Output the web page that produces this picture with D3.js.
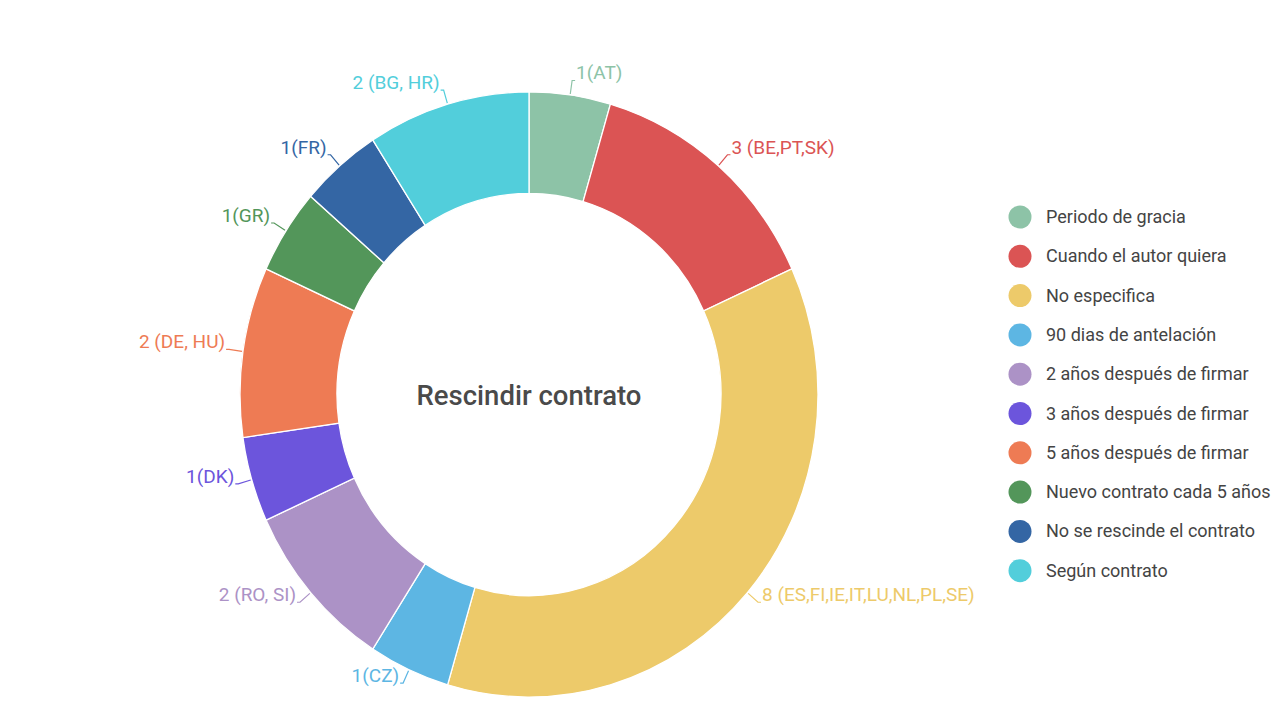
<!DOCTYPE html>
<html>
<head>
<meta charset="utf-8">
<script src="https://cdn.jsdelivr.net/npm/d3@7"></script>
<style>
  body { margin: 0; background: #fff; font-family: Roboto, "Noto Sans", sans-serif; }
</style>
</head>
<body>
<div id="chart"></div>
<script>
// categories, values, slice labels
var categories = ["Periodo de gracia", "Cuando el autor quiera", "No especifica", "90 dias de antelación",
    "2 años después de firmar", "3 años después de firmar", "5 años después de firmar",
    "Nuevo contrato cada 5 años", "No se rescinde el contrato", "Según contrato"];
var values = [1, 3, 8, 1, 2, 1, 2, 1, 1, 2];
var sliceLabels = ["1(AT)", "3 (BE,PT,SK)", "8 (ES,FI,IE,IT,LU,NL,PL,SE)", "1(CZ)", "2 (RO, SI)",
    "1(DK)", "2 (DE, HU)", "1(GR)", "1(FR)", "2 (BG, HR)"];
var colors = ["#8dc3a7", "#db5454", "#edca6a", "#5db6e3", "#ac92c6", "#6c55dc", "#ee7b54",
    "#53965a", "#3466a4", "#52cedb"];
var title = "Rescindir contrato";

var W = 1282, H = 708;
var cx = 529, cy = 394.5;
var rOuter = 289, rInner = 192, yStretch = 1.047;

var svg = d3.select("#chart").append("svg")
    .attr("width", W)
    .attr("height", H);

var data = categories.map(function (c, i) {
    return {name: c, value: values[i], label: sliceLabels[i], color: colors[i]};
});

var pie = d3.pie()
    .sort(null)
    .value(function (d) { return d.value; });

var arc = d3.arc()
    .innerRadius(rInner)
    .outerRadius(rOuter);

var arcs = pie(data);

// the ring (slightly taller than wide, like the reference)
svg.append("g")
    .attr("transform", "translate(" + cx + "," + cy + ") scale(1," + yStretch + ")")
    .selectAll("path")
    .data(arcs)
    .enter()
    .append("path")
    .attr("d", arc)
    .attr("fill", function (d) { return d.data.color; })
    .attr("stroke", "#fff")
    .attr("stroke-width", 1.3);

// point on the (stretched) ring at a given angle and radius
function pt(a, r) {
    return [cx + r * Math.sin(a), cy - r * yStretch * Math.cos(a)];
}

var labels = svg.append("g");

arcs.forEach(function (d) {
    var a = (d.startAngle + d.endAngle) / 2;
    var right = Math.sin(a) >= 0;
    var p1 = pt(a, rOuter + 1);
    var p2 = pt(a, rOuter + 14);
    var p3 = [p2[0] + (right ? 3 : -3), p2[1]];

    labels.append("polyline")
        .attr("points", [p1, p2, p3].map(function (p) { return p.join(","); }).join(" "))
        .attr("fill", "none")
        .attr("stroke", d.data.color)
        .attr("stroke-width", 1.2);

    labels.append("text")
        .attr("x", p3[0] + (right ? 1 : -1))
        .attr("y", p3[1] - 1)
        .attr("text-anchor", right ? "start" : "end")
        .attr("font-size", 19)
        .attr("fill", d.data.color)
        .text(d.data.label);
});

// centre title
svg.append("text")
    .attr("x", cx)
    .attr("y", cy + 10)
    .attr("text-anchor", "middle")
    .attr("font-size", 27.5)
    .attr("font-weight", 500)
    .attr("fill", "#4a4a4a")
    .text(title);

// legend
var legend = svg.append("g")
    .attr("transform", "translate(1020,217)");

var rows = legend.selectAll("g")
    .data(data)
    .enter()
    .append("g")
    .attr("transform", function (d, i) { return "translate(0," + (i * 39.3) + ")"; });

rows.append("circle")
    .attr("r", 11.5)
    .attr("fill", function (d) { return d.color; });

rows.append("text")
    .attr("x", 26)
    .attr("y", 6)
    .attr("font-size", 18)
    .attr("fill", "#444")
    .text(function (d) { return d.name; });
</script>
</body>
</html>
